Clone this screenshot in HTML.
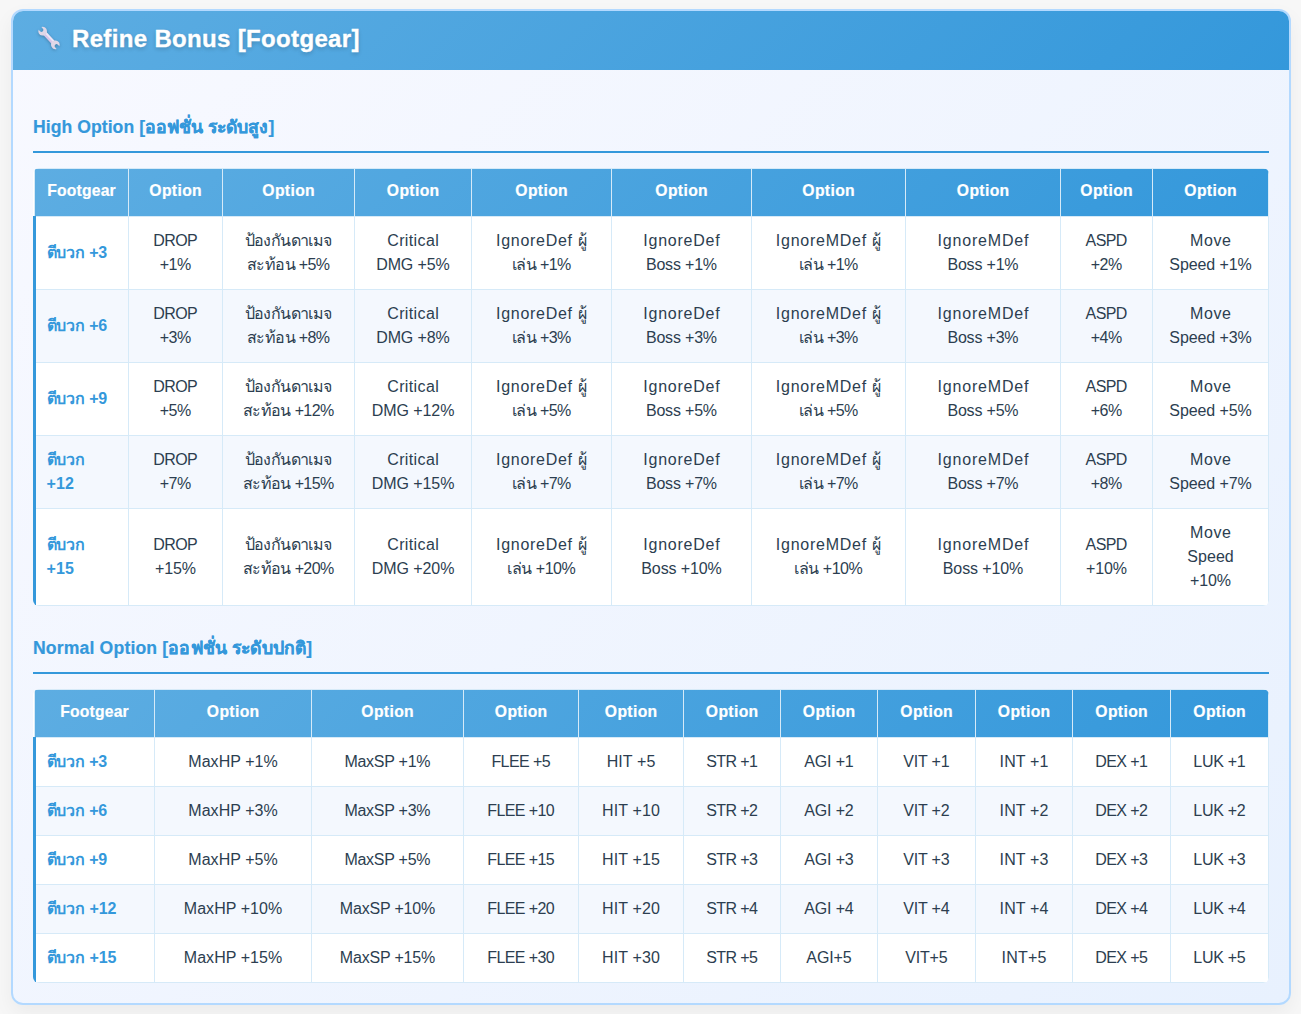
<!DOCTYPE html>
<html lang="th">
<head>
<meta charset="utf-8">
<title>Refine Bonus [Footgear]</title>
<style>
  * { box-sizing: border-box; }
  html, body { margin: 0; padding: 0; }
  body {
    width: 1301px; height: 1014px; overflow: hidden; position: relative;
    background: #f7f7f7;
    font-family: "Liberation Sans", sans-serif;
    color: #2c3e50;
  }
  .card {
    position: absolute; left: 11px; top: 9px; width: 1280px; height: 996px;
    border: 2px solid #b3d9ff; border-radius: 12px; overflow: hidden;
    background: linear-gradient(135deg, #f8f9ff 0%, #e8f1fe 100%);
    box-shadow: 0 8px 20px rgba(0,0,0,0.05);
  }
  .head {
    position: absolute; left: 0; top: 0; width: 1276px; height: 59px;
    background: linear-gradient(135deg, #5dade2 0%, #3498db 100%);
  }
  .head h1 {
    position: absolute; left: 59px; top: 12.5px; margin: 0; white-space: nowrap;
    font-size: 24px; line-height: 30px; font-weight: bold; color: #fff;
    text-shadow: 0 2px 4px rgba(0,0,0,0.2);
    -webkit-text-stroke: 0.35px #fff;
  }
  .head svg { position: absolute; left: 22.25px; top: 13.35px; filter: drop-shadow(0 1px 1.5px rgba(0,0,0,0.25)); }
  h3 {
    position: absolute; left: 20px; width: 1236px; height: 40px; margin: 0;
    border-bottom: 2px solid #3498db;
    font-size: 17.6px; line-height: 24px; font-weight: bold; color: #3498db; white-space: nowrap;
    -webkit-text-stroke: 0.2px #3498db;
  }
  h3 .t { position: absolute; left: 0; top: 2px; }
  table {
    position: absolute; left: 20px; width: 1236px;
    border-collapse: collapse; table-layout: fixed; background: #fff;
    border-radius: 6px; overflow: hidden;
  }
  thead tr { background: linear-gradient(135deg, #5dade2 0%, #3498db 100%); }
  th {
    height: 48px; padding: 0 0 3px 0; text-align: center; color: #fff; font-weight: bold;
    font-size: 15.7px; line-height: 22px; white-space: nowrap;
    -webkit-text-stroke: 0.2px #fff;
    border: 1px solid #d6eaf8;
  }
  td {
    padding: 12px 0; text-align: center; font-size: 16px; line-height: 24px; white-space: nowrap;
    border: 1px solid #d6eaf8; color: #2c3e50;
  }
  tbody tr:nth-child(even) { background: #f4f8fe; }
  td:first-child {
    text-align: left; padding-left: 10.5px; font-weight: 600; color: #3498db;
    border-left: 3px solid #3498db;
  }
  .k0 { letter-spacing: 0.34px; margin-right: -0.34px; }
  .k1 { letter-spacing: 0.05px; margin-right: -0.05px; }
  .k2 { letter-spacing: 0.18px; margin-right: -0.18px; }
  .k3 { letter-spacing: 0.36px; margin-right: -0.36px; }
  .k4 { letter-spacing: -0.16px; margin-right: 0.16px; }
  .k5 { letter-spacing: -0.6px; margin-right: 0.6px; }
  .k6 { letter-spacing: -0.43px; margin-right: 0.43px; }
  .k7 { letter-spacing: 0.37px; margin-right: -0.37px; }
  .k8 { letter-spacing: -0.11px; margin-right: 0.11px; }
  .k9 { letter-spacing: 0.72px; margin-right: -0.72px; }
  .k10 { letter-spacing: 0.77px; margin-right: -0.77px; }
  .k11 { letter-spacing: -0.19px; margin-right: 0.19px; }
  .k12 { letter-spacing: 0.76px; margin-right: -0.76px; }
  .k13 { letter-spacing: 0.81px; margin-right: -0.81px; }
  .k14 { letter-spacing: 0.63px; margin-right: -0.63px; }
  .k15 { letter-spacing: -0.06px; margin-right: 0.06px; }
  .k16 { letter-spacing: -0.24px; margin-right: 0.24px; }
  .k17 { letter-spacing: 0.16px; margin-right: -0.16px; }
  .k18 { letter-spacing: -0.2px; margin-right: 0.2px; }
  .k19 { letter-spacing: -0.48px; margin-right: 0.48px; }
  .k20 { letter-spacing: -0.13px; margin-right: 0.13px; }
  .k21 { letter-spacing: 0.06px; margin-right: -0.06px; }
  .k22 { letter-spacing: 0.04px; margin-right: -0.04px; }
  .k23 { letter-spacing: -0.25px; margin-right: 0.25px; }
  .k24 { letter-spacing: 0.09px; margin-right: -0.09px; }
  .k25 { letter-spacing: 0.15px; margin-right: -0.15px; }
  .k26 { letter-spacing: -0.3px; margin-right: 0.3px; }
  .k27 { letter-spacing: 0.12px; margin-right: -0.12px; }
  .k28 { letter-spacing: -0.1px; margin-right: 0.1px; }
  .k29 { letter-spacing: -0.22px; margin-right: 0.22px; }
  .k30 { letter-spacing: 0.19px; margin-right: -0.19px; }
</style>
</head>
<body>
<div class="card">
  <div class="head">
    <svg width="28" height="28" viewBox="-14 -14 28 28">
      <g transform="rotate(47)">
        <rect x="-8" y="-2.1" width="16" height="4.2" fill="#d9c7ea"/>
        <rect x="-8" y="-2.1" width="16" height="1.9" fill="#ece7f6"/>
        <path fill="#e0d7e7" d="M 13.2 -1.9 A 4.35 4.35 0 1 0 13.2 1.9 L 11 1.9 A 1.9 1.9 0 0 1 11 -1.9 Z"/>
        <path fill="#e0d7e7" d="M -13.2 -1.9 A 4.35 4.35 0 1 1 -13.2 1.9 L -11 1.9 A 1.9 1.9 0 0 0 -11 -1.9 Z"/>
      </g>
    </svg>
    <h1><span class="k0">Refine Bonus [Footgear]</span></h1>
  </div>

  <h3 style="top:102px"><span class="t"><span class="k1">High Option [ออฟชั่น ระดับสูง]</span></span></h3>
  <table style="top:157px" id="t1">
    <colgroup><col style="width:94px"><col style="width:94px"><col style="width:132px"><col style="width:117px"><col style="width:140px"><col style="width:140px"><col style="width:154px"><col style="width:155px"><col style="width:92px"><col style="width:116px"></colgroup>
    <thead>
      <tr><th><span class="k2">Footgear</span></th><th><span class="k3">Option</span></th><th><span class="k3">Option</span></th><th><span class="k3">Option</span></th><th><span class="k3">Option</span></th><th><span class="k3">Option</span></th><th><span class="k3">Option</span></th><th><span class="k3">Option</span></th><th><span class="k3">Option</span></th><th><span class="k3">Option</span></th></tr>
    </thead>
    <tbody>
      <tr><td><span class="k4">ตีบวก +3</span></td><td><span class="k5">DROP</span><br><span class="k6">+1%</span></td><td><span class="k5">ป้องกันดาเมจ</span><br><span class="k5">สะท้อน +5%</span></td><td><span class="k7">Critical</span><br><span class="k8">DMG +5%</span></td><td><span class="k9">IgnoreDef ผู้</span><br><span class="k5">เล่น +1%</span></td><td><span class="k10">IgnoreDef</span><br><span class="k11">Boss +1%</span></td><td><span class="k12">IgnoreMDef ผู้</span><br><span class="k5">เล่น +1%</span></td><td><span class="k13">IgnoreMDef</span><br><span class="k11">Boss +1%</span></td><td><span class="k5">ASPD</span><br><span class="k6">+2%</span></td><td><span class="k14">Move</span><br><span class="k8">Speed +1%</span></td></tr>
      <tr><td><span class="k4">ตีบวก +6</span></td><td><span class="k5">DROP</span><br><span class="k6">+3%</span></td><td><span class="k5">ป้องกันดาเมจ</span><br><span class="k5">สะท้อน +8%</span></td><td><span class="k7">Critical</span><br><span class="k8">DMG +8%</span></td><td><span class="k9">IgnoreDef ผู้</span><br><span class="k5">เล่น +3%</span></td><td><span class="k10">IgnoreDef</span><br><span class="k11">Boss +3%</span></td><td><span class="k12">IgnoreMDef ผู้</span><br><span class="k5">เล่น +3%</span></td><td><span class="k13">IgnoreMDef</span><br><span class="k11">Boss +3%</span></td><td><span class="k5">ASPD</span><br><span class="k6">+4%</span></td><td><span class="k14">Move</span><br><span class="k8">Speed +3%</span></td></tr>
      <tr><td><span class="k4">ตีบวก +9</span></td><td><span class="k5">DROP</span><br><span class="k6">+5%</span></td><td><span class="k5">ป้องกันดาเมจ</span><br><span class="k5">สะท้อน +12%</span></td><td><span class="k7">Critical</span><br><span class="k15">DMG +12%</span></td><td><span class="k9">IgnoreDef ผู้</span><br><span class="k5">เล่น +5%</span></td><td><span class="k10">IgnoreDef</span><br><span class="k11">Boss +5%</span></td><td><span class="k12">IgnoreMDef ผู้</span><br><span class="k5">เล่น +5%</span></td><td><span class="k13">IgnoreMDef</span><br><span class="k11">Boss +5%</span></td><td><span class="k5">ASPD</span><br><span class="k6">+6%</span></td><td><span class="k14">Move</span><br><span class="k8">Speed +5%</span></td></tr>
      <tr><td><span class="k16">ตีบวก</span><br><span class="k17">+12</span></td><td><span class="k5">DROP</span><br><span class="k6">+7%</span></td><td><span class="k5">ป้องกันดาเมจ</span><br><span class="k5">สะท้อน +15%</span></td><td><span class="k7">Critical</span><br><span class="k15">DMG +15%</span></td><td><span class="k9">IgnoreDef ผู้</span><br><span class="k5">เล่น +7%</span></td><td><span class="k10">IgnoreDef</span><br><span class="k11">Boss +7%</span></td><td><span class="k12">IgnoreMDef ผู้</span><br><span class="k5">เล่น +7%</span></td><td><span class="k13">IgnoreMDef</span><br><span class="k11">Boss +7%</span></td><td><span class="k5">ASPD</span><br><span class="k6">+8%</span></td><td><span class="k14">Move</span><br><span class="k8">Speed +7%</span></td></tr>
      <tr><td><span class="k16">ตีบวก</span><br><span class="k17">+15</span></td><td><span class="k5">DROP</span><br><span class="k18">+15%</span></td><td><span class="k5">ป้องกันดาเมจ</span><br><span class="k5">สะท้อน +20%</span></td><td><span class="k7">Critical</span><br><span class="k15">DMG +20%</span></td><td><span class="k9">IgnoreDef ผู้</span><br><span class="k19">เล่น +10%</span></td><td><span class="k10">IgnoreDef</span><br><span class="k20">Boss +10%</span></td><td><span class="k12">IgnoreMDef ผู้</span><br><span class="k19">เล่น +10%</span></td><td><span class="k13">IgnoreMDef</span><br><span class="k20">Boss +10%</span></td><td><span class="k5">ASPD</span><br><span class="k18">+10%</span></td><td><span class="k14">Move</span><br><span class="k21">Speed</span><br><span class="k18">+10%</span></td></tr>
    </tbody>
  </table>

  <h3 style="top:623px"><span class="t"><span class="k17">Normal Option [ออฟชั่น ระดับปกติ]</span></span></h3>
  <table style="top:678px" id="t2">
    <colgroup><col style="width:120px"><col style="width:157px"><col style="width:152px"><col style="width:115px"><col style="width:105px"><col style="width:97px"><col style="width:97px"><col style="width:98px"><col style="width:97px"><col style="width:98px"><col style="width:98px"></colgroup>
    <thead>
      <tr><th><span class="k2">Footgear</span></th><th><span class="k3">Option</span></th><th><span class="k3">Option</span></th><th><span class="k3">Option</span></th><th><span class="k3">Option</span></th><th><span class="k3">Option</span></th><th><span class="k3">Option</span></th><th><span class="k3">Option</span></th><th><span class="k3">Option</span></th><th><span class="k3">Option</span></th><th><span class="k3">Option</span></th></tr>
    </thead>
    <tbody>
      <tr><td><span class="k4">ตีบวก +3</span></td><td><span class="k22">MaxHP +1%</span></td><td><span class="k23">MaxSP +1%</span></td><td><span class="k5">FLEE +5</span></td><td><span class="k24">HIT +5</span></td><td><span class="k5">STR +1</span></td><td><span class="k4">AGI +1</span></td><td><span class="k11">VIT +1</span></td><td><span class="k25">INT +1</span></td><td><span class="k5">DEX +1</span></td><td><span class="k26">LUK +1</span></td></tr>
      <tr><td><span class="k4">ตีบวก +6</span></td><td><span class="k22">MaxHP +3%</span></td><td><span class="k23">MaxSP +3%</span></td><td><span class="k5">FLEE +10</span></td><td><span class="k27">HIT +10</span></td><td><span class="k5">STR +2</span></td><td><span class="k4">AGI +2</span></td><td><span class="k11">VIT +2</span></td><td><span class="k25">INT +2</span></td><td><span class="k5">DEX +2</span></td><td><span class="k26">LUK +2</span></td></tr>
      <tr><td><span class="k4">ตีบวก +9</span></td><td><span class="k22">MaxHP +5%</span></td><td><span class="k23">MaxSP +5%</span></td><td><span class="k5">FLEE +15</span></td><td><span class="k27">HIT +15</span></td><td><span class="k5">STR +3</span></td><td><span class="k4">AGI +3</span></td><td><span class="k11">VIT +3</span></td><td><span class="k25">INT +3</span></td><td><span class="k5">DEX +3</span></td><td><span class="k26">LUK +3</span></td></tr>
      <tr><td><span class="k28">ตีบวก +12</span></td><td><span class="k1">MaxHP +10%</span></td><td><span class="k11">MaxSP +10%</span></td><td><span class="k5">FLEE +20</span></td><td><span class="k27">HIT +20</span></td><td><span class="k5">STR +4</span></td><td><span class="k4">AGI +4</span></td><td><span class="k11">VIT +4</span></td><td><span class="k25">INT +4</span></td><td><span class="k5">DEX +4</span></td><td><span class="k26">LUK +4</span></td></tr>
      <tr><td><span class="k28">ตีบวก +15</span></td><td><span class="k1">MaxHP +15%</span></td><td><span class="k11">MaxSP +15%</span></td><td><span class="k5">FLEE +30</span></td><td><span class="k27">HIT +30</span></td><td><span class="k5">STR +5</span></td><td><span class="k20">AGI+5</span></td><td><span class="k29">VIT+5</span></td><td><span class="k30">INT+5</span></td><td><span class="k5">DEX +5</span></td><td><span class="k26">LUK +5</span></td></tr>
    </tbody>
  </table>
</div>
</body>
</html>
